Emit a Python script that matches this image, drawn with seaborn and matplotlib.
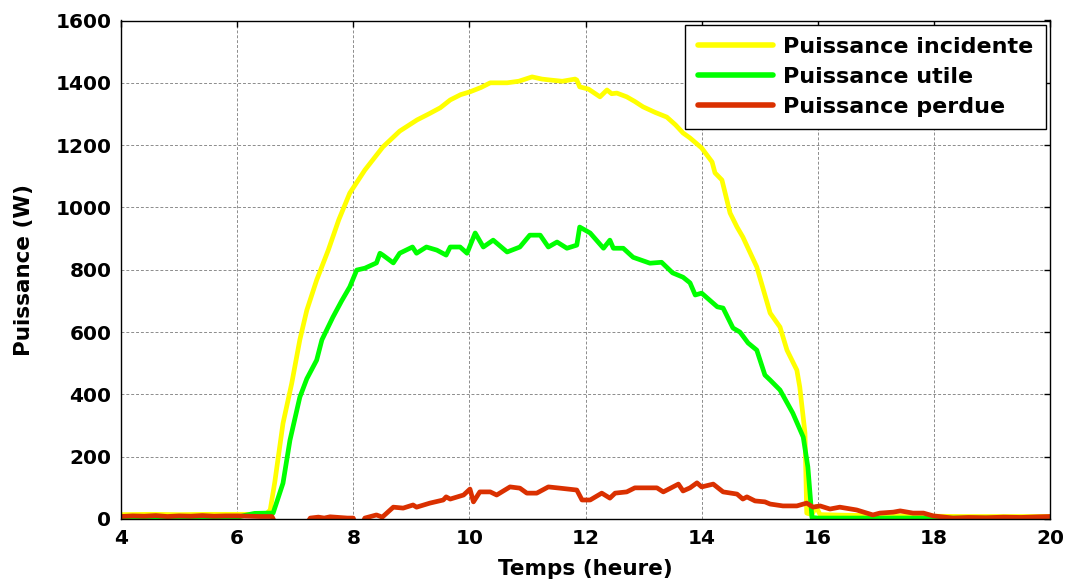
import numpy as np
import pandas as pd
import matplotlib
matplotlib.use("Agg")
import matplotlib.pyplot as plt
import seaborn as sns

# ---- data ----
t_inc = [4.0, 4.5, 5.0, 5.5, 6.0, 6.3, 6.5, 6.57, 6.65, 6.79, 6.94, 7.08, 7.2, 7.37, 7.57, 7.75,
         7.94, 8.2, 8.51, 8.8, 9.1, 9.3, 9.5, 9.67, 9.85, 10.01, 10.2, 10.36, 10.65, 10.85, 11.08,
         11.25, 11.39, 11.6, 11.82, 11.85, 11.9, 12.05, 12.25, 12.37, 12.45, 12.54, 12.71, 12.85,
         12.99, 13.2, 13.4, 13.55, 13.68, 13.8, 14.0, 14.18, 14.23, 14.35, 14.49, 14.61, 14.71,
         14.95, 15.18, 15.35, 15.47, 15.64, 15.69, 15.78, 15.81, 15.9, 15.97, 16.04, 16.5, 17.0,
         17.5, 18.0, 18.5, 19.0, 19.5, 20.0]
p_inc = [14, 15, 14, 15, 15, 15, 16, 29, 120, 307, 435, 575, 670, 767, 863, 960,
         1046, 1120, 1194, 1245, 1281, 1300, 1320, 1345, 1362, 1371, 1385, 1400, 1400, 1405, 1419,
         1412, 1409, 1405, 1412, 1409, 1387, 1380, 1355, 1377, 1365, 1367, 1355, 1340,
         1323, 1305, 1290, 1265, 1239, 1223, 1191, 1146, 1111, 1088, 982, 937, 905,
         809, 661, 616, 542, 478, 424, 276, 19, 14, 40, 14, 12, 11,
         10, 9, 8, 8, 8, 8]

t_ut = [4.0, 4.5, 5.0, 5.5, 6.0, 6.14, 6.3, 6.53, 6.62, 6.79, 6.91, 7.08, 7.2, 7.37, 7.46, 7.65,
        7.8, 7.94, 8.06, 8.2, 8.4, 8.46, 8.51, 8.69, 8.8, 9.02, 9.09, 9.26, 9.44, 9.6, 9.67, 9.84,
        9.96, 10.1, 10.24, 10.41, 10.65, 10.87, 11.04, 11.22, 11.36, 11.51, 11.68, 11.85, 11.9,
        12.08, 12.31, 12.42, 12.48, 12.65, 12.82, 13.11, 13.31, 13.5, 13.68, 13.8, 13.89, 14.0,
        14.27, 14.37, 14.54, 14.66, 14.8, 14.95, 15.09, 15.18, 15.35, 15.57, 15.75, 15.83, 15.9,
        16.0, 16.5, 17.0, 18.0, 19.0, 20.0]
p_ut = [4, 4, 4, 4, 5, 12, 18, 19, 19, 115, 253, 391, 450, 510, 575, 648,
        700, 745, 799, 805, 822, 853, 847, 822, 853, 873, 853, 873, 863, 847, 873, 873,
        853, 918, 873, 895, 857, 873, 911, 911, 873, 889, 869, 879, 937,
        918, 869, 895, 869, 869, 840, 821, 824, 790, 776, 758, 719, 725,
        681, 677, 613, 600, 565, 542, 462, 446, 414, 340, 263, 167, 5,
        3, 3, 3, 3, 3, 3]

t_perd = [4.0, 4.2, 4.4, 4.6, 4.8, 5.0, 5.2, 5.4, 5.6, 5.8, 6.0, 6.2, 6.4, 6.6, 6.7, 7.15, 7.26,
          7.4, 7.5, 7.6, 7.75, 7.9, 8.0, 8.06, 8.12, 8.2, 8.4, 8.5, 8.69, 8.86, 9.03, 9.09, 9.32,
          9.55, 9.6, 9.67, 9.9, 10.01, 10.07, 10.18, 10.36, 10.47, 10.7, 10.87, 10.99, 11.16,
          11.36, 11.56, 11.85, 11.94, 12.08, 12.28, 12.42, 12.51, 12.71, 12.85, 13.23, 13.34,
          13.6, 13.68, 13.8, 13.92, 14.0, 14.2, 14.37, 14.61, 14.71, 14.78, 14.92, 15.09, 15.18,
          15.4, 15.64, 15.81, 15.92, 16.04, 16.21, 16.38, 16.67, 16.95, 17.07, 17.3, 17.42,
          17.64, 17.82, 17.99, 18.33, 18.6, 18.9, 19.2, 19.5, 19.8, 20.0]
p_perd = [8, 10, 9, 11, 8, 10, 9, 11, 9, 10, 10, 9, 8, 8, -30, -30, 3,
          6, 3, 7, 5, 3, 3, -30, -30, 3, 13, 6, 38, 35, 45, 38, 51,
          61, 71, 64, 77, 96, 55, 87, 87, 77, 103, 99, 83, 83,
          103, 99, 93, 61, 61, 83, 67, 83, 87, 100, 100, 87,
          112, 90, 100, 116, 103, 112, 87, 80, 64, 71, 58, 55, 48,
          42, 42, 51, 38, 42, 32, 38, 29, 13, 19, 22, 26,
          19, 19, 10, 3, 5, 4, 6, 5, 7, 8]

labels = ["Puissance incidente", "Puissance utile", "Puissance perdue"]
colors = ["#FFFF00", "#00FF00", "#DA3000"]
x_ticks = [4, 6, 8, 10, 12, 14, 16, 18, 20]
y_ticks = [0, 200, 400, 600, 800, 1000, 1200, 1400, 1600]

df = pd.concat([
    pd.DataFrame({"t": t_inc, "p": p_inc, "serie": labels[0]}),
    pd.DataFrame({"t": t_ut, "p": p_ut, "serie": labels[1]}),
    pd.DataFrame({"t": t_perd, "p": p_perd, "serie": labels[2]}),
], ignore_index=True)

sns.set_theme(style="white")
plt.rcParams["font.family"] = ["DejaVu Sans"]
plt.rcParams["font.weight"] = "bold"
plt.rcParams["text.color"] = "black"
plt.rcParams["axes.labelcolor"] = "black"

fig = plt.figure(figsize=(10.68, 5.85), dpi=100)
ax = fig.add_axes([121 / 1068, 1 - 519 / 585, (1050 - 121) / 1068, (519 - 20.5) / 585])

sns.lineplot(data=df, x="t", y="p", hue="serie", hue_order=labels,
             palette=dict(zip(labels, colors)), sort=False, estimator=None,
             linewidth=3.4, ax=ax)

ax.set_xlim(4, 20)
ax.set_ylim(0, 1600)
ax.set_xticks(x_ticks)
ax.set_yticks(y_ticks)
ax.set_xticklabels([str(v) for v in x_ticks], fontsize=14.5, fontweight="bold")
ax.set_yticklabels([str(v) for v in y_ticks], fontsize=14.5, fontweight="bold")
ax.tick_params(direction="in", top=True, right=True, length=4, width=1,
               color="black", pad=7, labelcolor="black")
ax.grid(True, color="#8c8c8c", linestyle=(0, (3, 2)), linewidth=0.7)
for s in ax.spines.values():
    s.set_color("black")
    s.set_linewidth(1.0)
    s.set_visible(True)

ax.set_xlabel("Temps (heure)", fontsize=15.5, fontweight="bold", labelpad=8, color="black")
ax.set_ylabel("Puissance (W)", fontsize=15.5, fontweight="bold", labelpad=15, color="black")

leg = ax.legend(loc="upper right", frameon=True, fancybox=False,
                edgecolor="black", framealpha=1, handlelength=3.4, labelspacing=0.45,
                borderaxespad=0.2, borderpad=0.55, handletextpad=0.45,
                prop={"weight": "bold", "size": 16})
leg.get_frame().set_linewidth(1.0)
for txt in leg.get_texts():
    txt.set_color("black")
for line in leg.get_lines():
    line.set_linewidth(4)

fig.savefig("out.png", dpi=100, facecolor="white")
